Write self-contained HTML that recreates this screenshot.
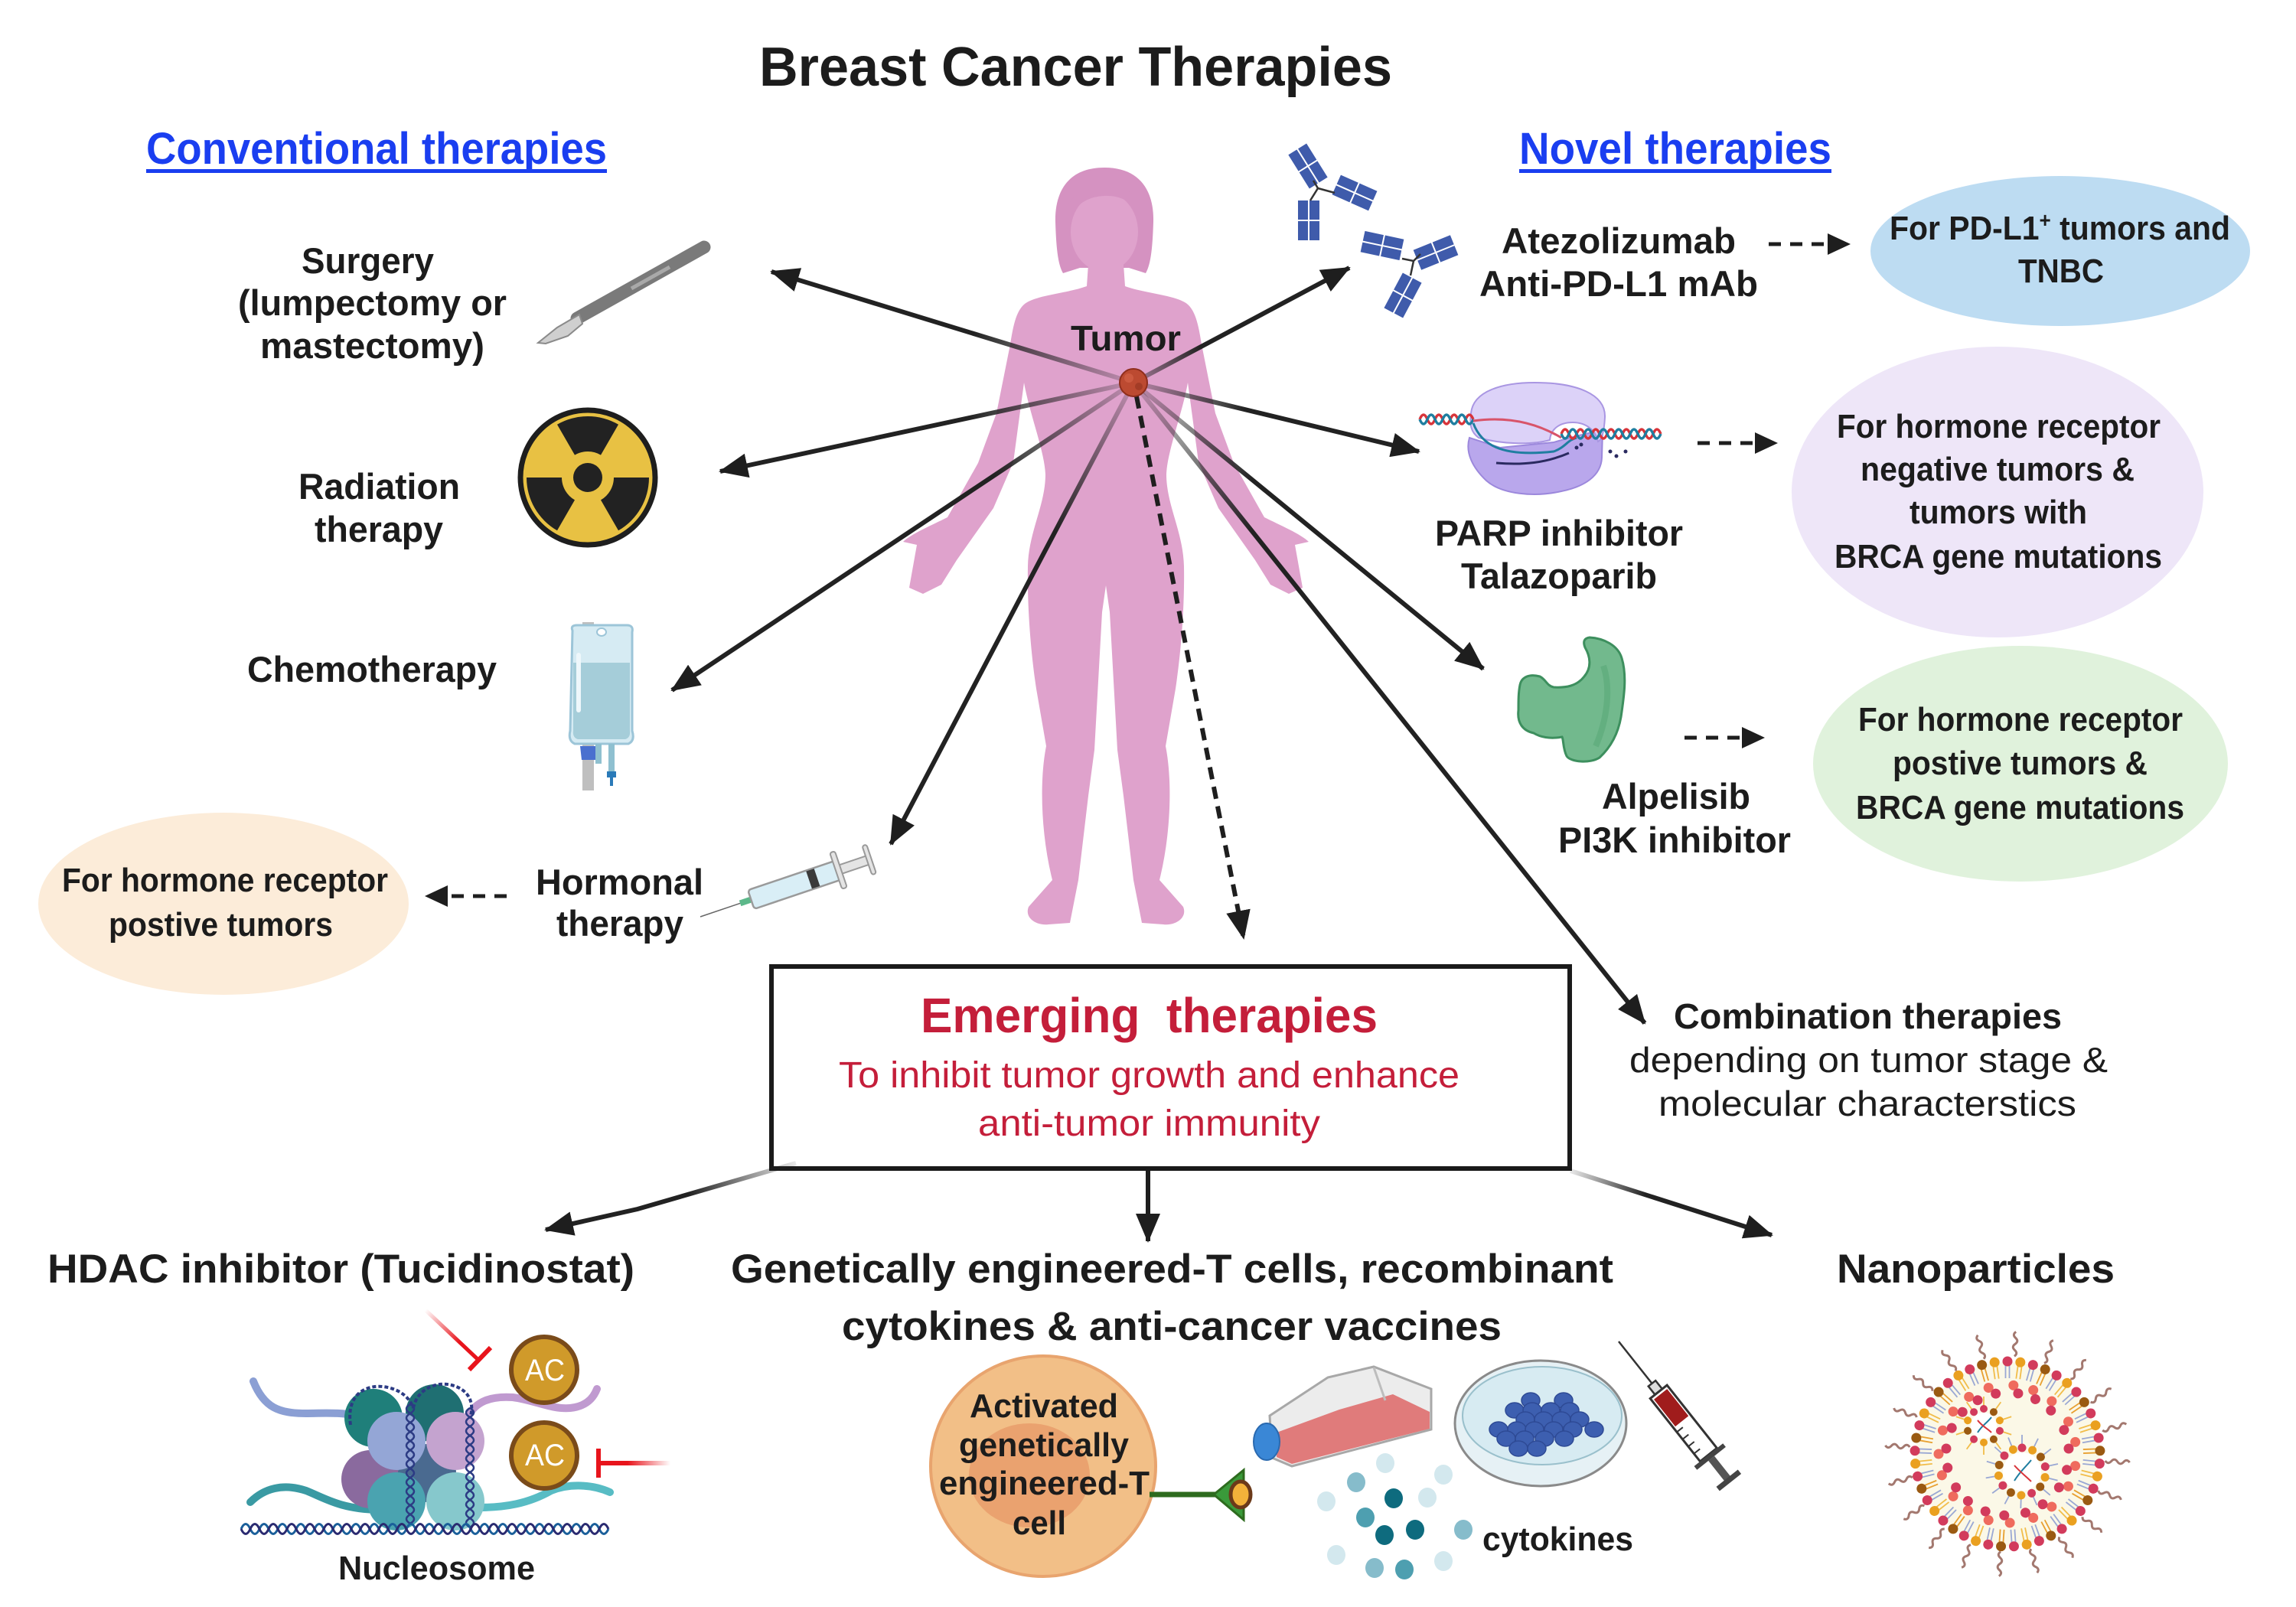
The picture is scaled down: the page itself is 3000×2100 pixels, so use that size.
<!DOCTYPE html>
<html><head><meta charset="utf-8">
<style>
html,body{margin:0;padding:0;background:#fff}
svg{display:block}
text{font-family:"Liberation Sans",Arial,sans-serif}
.b{font-weight:700;fill:#1c1c1c}
.n{font-weight:400;fill:#1c1c1c}
</style></head>
<body>
<svg width="3000" height="2100" viewBox="0 0 3000 2100" xmlns="http://www.w3.org/2000/svg">
<defs>
  <marker id="ah" markerUnits="userSpaceOnUse" markerWidth="38" markerHeight="32" viewBox="0 0 38 32" refX="36" refY="16" orient="auto"><path d="M0,0 L38,16 L0,32 Z" fill="#1e1e1e"/></marker>
  <marker id="ahs" markerUnits="userSpaceOnUse" markerWidth="30" markerHeight="28" viewBox="0 0 30 28" refX="28" refY="14" orient="auto"><path d="M0,0 L30,14 L0,28 Z" fill="#1e1e1e"/></marker>
  <linearGradient id="g1" gradientUnits="userSpaceOnUse" x1="1481" y1="500" x2="1271" y2="436"><stop offset="0" stop-color="#222" stop-opacity="0.15"/><stop offset="1" stop-color="#222"/></linearGradient>
  <linearGradient id="g2" gradientUnits="userSpaceOnUse" x1="1481" y1="500" x2="1266" y2="546"><stop offset="0" stop-color="#222" stop-opacity="0.15"/><stop offset="1" stop-color="#222"/></linearGradient>
  <linearGradient id="g3" gradientUnits="userSpaceOnUse" x1="1481" y1="500" x2="1298" y2="622"><stop offset="0" stop-color="#222" stop-opacity="0.15"/><stop offset="1" stop-color="#222"/></linearGradient>
  <linearGradient id="g4" gradientUnits="userSpaceOnUse" x1="1481" y1="500" x2="1379" y2="695"><stop offset="0" stop-color="#222" stop-opacity="0.15"/><stop offset="1" stop-color="#222"/></linearGradient>
  <linearGradient id="g6" gradientUnits="userSpaceOnUse" x1="1481" y1="500" x2="1569" y2="453"><stop offset="0" stop-color="#222" stop-opacity="0.3"/><stop offset="1" stop-color="#222"/></linearGradient>
  <linearGradient id="g7" gradientUnits="userSpaceOnUse" x1="1481" y1="500" x2="1627" y2="535"><stop offset="0" stop-color="#222" stop-opacity="0.2"/><stop offset="1" stop-color="#222"/></linearGradient>
  <linearGradient id="g8" gradientUnits="userSpaceOnUse" x1="1481" y1="500" x2="1636" y2="627"><stop offset="0" stop-color="#222" stop-opacity="0.15"/><stop offset="1" stop-color="#222"/></linearGradient>
  <linearGradient id="g9" gradientUnits="userSpaceOnUse" x1="1481" y1="500" x2="1637" y2="695"><stop offset="0" stop-color="#222" stop-opacity="0.15"/><stop offset="1" stop-color="#222"/></linearGradient>
  <linearGradient id="gb1" gradientUnits="userSpaceOnUse" x1="1040" y1="1520" x2="900" y2="1562"><stop offset="0" stop-color="#222" stop-opacity="0.1"/><stop offset="1" stop-color="#222"/></linearGradient>
  <linearGradient id="gb3" gradientUnits="userSpaceOnUse" x1="2052" y1="1530" x2="2150" y2="1562"><stop offset="0" stop-color="#222" stop-opacity="0.1"/><stop offset="1" stop-color="#222"/></linearGradient>
  <linearGradient id="gr1" gradientUnits="userSpaceOnUse" x1="556" y1="1712" x2="600" y2="1754"><stop offset="0" stop-color="#e8141c" stop-opacity="0"/><stop offset="1" stop-color="#e8141c"/></linearGradient>
  <linearGradient id="gr2" gradientUnits="userSpaceOnUse" x1="876" y1="1912" x2="820" y2="1912"><stop offset="0" stop-color="#e8141c" stop-opacity="0"/><stop offset="1" stop-color="#e8141c"/></linearGradient>

  <g id="fab" fill="#3f5bab">
    <rect x="-14" y="-26" width="13" height="25"/><rect x="-14" y="1" width="13" height="25"/>
    <rect x="1" y="-26" width="13" height="25"/><rect x="1" y="1" width="13" height="25"/>
  </g>
  <path id="bodyR" d="M1442,345 L1468,345 L1470,374 C1495,383 1530,385 1548,395 C1562,403 1566,425 1570,450 L1588,540 L1612,605 L1652,676 C1672,686 1700,698 1710,708 L1692,712 L1702,768 L1684,776 L1660,764 L1640,732 L1592,664 L1566,604 L1552,500 C1545,540 1525,590 1524,620 C1524,660 1546,695 1547,740 C1548,800 1542,860 1536,900 L1523,975 C1532,1020 1530,1090 1515,1150 L1546,1185 C1552,1200 1535,1210 1520,1208 L1492,1206 L1481,1150 L1468,1040 L1460,980 L1450,800 L1445,765 L1442,765 Z"/>

  <g id="nR"><line x1="-2.5" y1="-116" x2="-2.5" y2="-99" stroke="#9aa8d4" stroke-width="1.8"/><line x1="2.5" y1="-116" x2="2.5" y2="-99" stroke="#9aa8d4" stroke-width="1.8"/><circle cx="0" cy="-121" r="6.5" fill="#d23b5c"/></g>
  <g id="nO"><line x1="-2.5" y1="-116" x2="-2.5" y2="-99" stroke="#f1bd4a" stroke-width="1.8"/><line x1="2.5" y1="-116" x2="2.5" y2="-99" stroke="#f1bd4a" stroke-width="1.8"/><circle cx="0" cy="-121" r="6.5" fill="#eaa020"/></g>
  <g id="nB"><line x1="-2.5" y1="-116" x2="-2.5" y2="-99" stroke="#e8a030" stroke-width="1.8"/><line x1="2.5" y1="-116" x2="2.5" y2="-99" stroke="#e8a030" stroke-width="1.8"/><circle cx="0" cy="-121" r="6.5" fill="#9a5a12"/></g>
  <g id="nI"><circle cx="0" cy="-90" r="6.5" fill="#ef6b5e"/><circle cx="7" cy="-80" r="6.5" fill="#d23b5c"/></g>
  <path id="nP" d="M0,-128 q5,-4 0,-8 t0,-8 t0,-8 t0,-8" fill="none" stroke="#a3786f" stroke-width="3"/>
  <g id="v1"><line x1="0" y1="-26" x2="0" y2="-38" stroke="#f1bd4a" stroke-width="1.8"/><circle cx="0" cy="-22" r="5"/></g>
  <g id="v2"><line x1="0" y1="-35" x2="0" y2="-48" stroke="#9aa8d4" stroke-width="1.8"/><circle cx="0" cy="-31" r="5.5"/></g>
</defs>

<!-- Title -->
<text class="b" x="992" y="112" font-size="72" textLength="827" lengthAdjust="spacingAndGlyphs">Breast Cancer Therapies</text>
<text x="191" y="214" font-size="58" font-weight="700" fill="#1a3ef0" textLength="602" lengthAdjust="spacingAndGlyphs">Conventional therapies</text>
<rect x="191" y="221" width="602" height="5" fill="#1a3ef0"/>
<text x="1985" y="214" font-size="58" font-weight="700" fill="#1a3ef0" textLength="408" lengthAdjust="spacingAndGlyphs">Novel therapies</text>
<rect x="1985" y="221" width="408" height="5" fill="#1a3ef0"/>

<!-- Ellipses -->
<ellipse cx="2692" cy="328" rx="248" ry="98" fill="#bddcf2"/>
<ellipse cx="2610" cy="643" rx="269" ry="190" fill="#eee6f8"/>
<ellipse cx="2640" cy="998" rx="271" ry="154" fill="#e0f2dc"/>
<ellipse cx="292" cy="1181" rx="242" ry="119" fill="#fcecd9"/>

<!-- Woman figure -->
<g fill="#dfa2cc">
  <use href="#bodyR"/>
  <use href="#bodyR" transform="matrix(-1 0 0 1 2890 0)"/>
</g>
<path d="M1443,219 C1490,219 1508,250 1507,290 C1506,322 1504,345 1497,357 L1475,350 L1411,350 L1389,357 C1382,345 1380,322 1379,290 C1378,250 1396,219 1443,219 Z" fill="#d592c1"/>
<ellipse cx="1443" cy="303" rx="44" ry="52" fill="#dfa2cc"/>
<path d="M1400,272 C1412,246 1470,240 1488,270" fill="none" stroke="#d592c1" stroke-width="12"/>
<rect x="1422" y="345" width="46" height="36" fill="#dfa2cc"/>

<!-- Arrows from tumor -->
<g fill="none" stroke-width="6" marker-end="url(#ah)">
  <line x1="1481" y1="500" x2="1008" y2="355" stroke="url(#g1)"/>
  <line x1="1481" y1="500" x2="941" y2="616" stroke="url(#g2)"/>
  <line x1="1481" y1="500" x2="878" y2="902" stroke="url(#g3)"/>
  <line x1="1481" y1="500" x2="1164" y2="1103" stroke="url(#g4)"/>
  <line x1="1481" y1="500" x2="1763" y2="350" stroke="url(#g6)"/>
  <line x1="1481" y1="500" x2="1854" y2="590" stroke="url(#g7)"/>
  <line x1="1481" y1="500" x2="1938" y2="874" stroke="url(#g8)"/>
  <line x1="1481" y1="500" x2="2149" y2="1337" stroke="url(#g9)"/>
  <line x1="1485" y1="518" x2="1625" y2="1226" stroke="#1e1e1e" stroke-dasharray="16 10"/>
</g>

<!-- Tumor -->
<circle cx="1481" cy="500" r="18" fill="#bc4a31" stroke="#8f2e1c" stroke-width="2"/>
<circle cx="1475" cy="494" r="6" fill="#cc5a40"/>
<circle cx="1488" cy="505" r="5" fill="#a33c26"/>
<text class="b" x="1399" y="458" font-size="46" textLength="144" lengthAdjust="spacingAndGlyphs">Tumor</text>

<!-- Left labels -->
<text class="b" x="394" y="357" font-size="47" textLength="173" lengthAdjust="spacingAndGlyphs">Surgery</text>
<text class="b" x="311" y="412" font-size="47" textLength="351" lengthAdjust="spacingAndGlyphs">(lumpectomy or</text>
<text class="b" x="340" y="468" font-size="47" textLength="293" lengthAdjust="spacingAndGlyphs">mastectomy)</text>
<text class="b" x="390" y="652" font-size="47" textLength="211" lengthAdjust="spacingAndGlyphs">Radiation</text>
<text class="b" x="411" y="708" font-size="47" textLength="168" lengthAdjust="spacingAndGlyphs">therapy</text>
<text class="b" x="323" y="891" font-size="47" textLength="326" lengthAdjust="spacingAndGlyphs">Chemotherapy</text>
<text class="b" x="700" y="1169" font-size="47" textLength="219" lengthAdjust="spacingAndGlyphs">Hormonal</text>
<text class="b" x="727" y="1223" font-size="47" textLength="166" lengthAdjust="spacingAndGlyphs">therapy</text>
<text class="b" x="81" y="1165" font-size="44" textLength="426" lengthAdjust="spacingAndGlyphs">For hormone receptor</text>
<text class="b" x="142" y="1223" font-size="44" textLength="293" lengthAdjust="spacingAndGlyphs">postive tumors</text>

<!-- Scalpel -->
<line x1="754" y1="416" x2="920" y2="323" stroke="#7a7a7a" stroke-width="17" stroke-linecap="round"/>
<line x1="825" y1="377" x2="875" y2="349" stroke="#a9a9a9" stroke-width="5"/>
<polygon points="757,411 728,428 703,448 713,449 742,439 761,423" fill="#cfcfcf" stroke="#8a8a8a" stroke-width="2"/>

<!-- Radiation -->
<circle cx="768" cy="624" r="88" fill="#e8c143" stroke="#1e1e1e" stroke-width="7"/>
<g fill="#222">
  <path d="M751,594.6 L728,554.7 A80,80 0 0 1 808,554.7 L785,594.6 A34,34 0 0 0 751,594.6 Z"/>
  <path d="M802,624 L848,624 A80,80 0 0 1 808,693.3 L785,653.4 A34,34 0 0 0 802,624 Z"/>
  <path d="M751,653.4 L728,693.3 A80,80 0 0 1 688,624 L734,624 A34,34 0 0 0 751,653.4 Z"/>
  <circle cx="768" cy="624" r="19"/>
</g>

<!-- IV bag -->
<rect x="761" y="813" width="15" height="220" fill="#bfbfbf"/>
<path d="M748,824 Q745,817 754,817 L819,817 Q828,817 826,826 L826,955 Q830,968 821,972 L751,972 Q742,968 745,955 Z" fill="#d6ebf3" stroke="#9cc5d8" stroke-width="3"/>
<path d="M749,866 L823,866 L823,955 Q824,964 817,966 L755,966 Q748,964 749,955 Z" fill="#a5cdd9"/>
<rect x="753" y="853" width="6" height="78" rx="3" fill="#eef7fb"/>
<ellipse cx="786" cy="826" rx="6" ry="5" fill="#fff" stroke="#9cc5d8" stroke-width="2"/>
<path d="M758,975 L778,975 L778,993 L760,993 Z" fill="#4a70cf"/>
<rect x="778" y="972" width="8" height="26" fill="#8fc0d0"/>
<rect x="795" y="972" width="8" height="40" fill="#8fc0d0"/>
<rect x="793" y="1008" width="12" height="8" fill="#2a7ab8"/>
<rect x="797" y="1015" width="4" height="12" fill="#2a7ab8"/>

<!-- Hormonal syringe -->
<g transform="translate(915,1198) rotate(-18.67)">
  <line x1="0" y1="0" x2="58" y2="0" stroke="#666" stroke-width="1.5"/>
  <rect x="55" y="-4" width="16" height="8" fill="#5cb88a"/>
  <rect x="160" y="-6" width="74" height="12" fill="#e4e4e4" stroke="#9a9a9a" stroke-width="2"/>
  <rect x="70" y="-13" width="120" height="26" rx="4" fill="#d9eef6" stroke="#9a9a9a" stroke-width="2.5"/>
  <rect x="150" y="-12" width="11" height="24" fill="#3a3a3a"/>
  <rect x="187" y="-25" width="7" height="50" rx="3" fill="#e4e4e4" stroke="#999" stroke-width="2"/>
  <rect x="230" y="-20" width="6" height="40" rx="3" fill="#e4e4e4" stroke="#999" stroke-width="2"/>
</g>

<!-- Small dashed arrows -->
<g stroke="#1e1e1e" stroke-width="5" stroke-dasharray="16 12" fill="none" marker-end="url(#ahs)">
  <line x1="2311" y1="319" x2="2416" y2="319"/>
  <line x1="2218" y1="579" x2="2321" y2="579"/>
  <line x1="2201" y1="964" x2="2304" y2="964"/>
  <line x1="662" y1="1171" x2="557" y2="1171"/>
</g>

<!-- Antibodies -->
<use href="#fab" transform="translate(1710,288)"/>
<use href="#fab" transform="translate(1709,217) rotate(-32)"/>
<use href="#fab" transform="translate(1770,252) rotate(-66)"/>
<path d="M1712,262 L1722,246 L1716,236 M1722,246 L1744,252" fill="none" stroke="#333" stroke-width="2.5"/>
<use href="#fab" transform="translate(1806,321) rotate(-78)"/>
<use href="#fab" transform="translate(1876,330) rotate(68)"/>
<use href="#fab" transform="translate(1833,386) rotate(28)"/>
<path d="M1832,338 L1847,341 L1856,332 M1847,341 L1843,360" fill="none" stroke="#333" stroke-width="2.5"/>

<!-- Novel labels -->
<text class="b" x="1962" y="331" font-size="47" textLength="306" lengthAdjust="spacingAndGlyphs">Atezolizumab</text>
<text class="b" x="1933" y="387" font-size="47" textLength="364" lengthAdjust="spacingAndGlyphs">Anti-PD-L1 mAb</text>
<text class="b" x="2469" y="313" font-size="44" textLength="445" lengthAdjust="spacingAndGlyphs">For PD-L1<tspan font-size="28" dy="-16">+</tspan><tspan dy="16"> tumors and</tspan></text>
<text class="b" x="2637" y="369" font-size="44" textLength="112" lengthAdjust="spacingAndGlyphs">TNBC</text>

<!-- PARP -->
<path d="M1920,572 C1914,592 1925,612 1942,628 C1962,646 2005,650 2040,642 C2070,636 2092,622 2093,598 L2094,562 C2075,566 2050,572 2030,578 L1960,585 Z" fill="#b9a7ec" stroke="#9c88dc" stroke-width="2"/>
<path fill-rule="evenodd" d="M1922,540 C1925,510 1965,500 2005,500 C2060,500 2098,515 2097,545 C2096,565 2093,575 2088,577 C2085,562 2072,552 2055,552 C2036,552 2026,562 2025,575 C2000,582 1960,580 1932,572 C1922,565 1920,555 1922,540 Z" fill="#dcd2f8" stroke="#a996e2" stroke-width="2"/>
<path d="M1855,548 q5,-12 10,0 t10,0 t10,0 t10,0 t10,0 t10,0 t10,0" fill="none" stroke="#d8343a" stroke-width="3.5"/>
<path d="M1855,548 q5,12 10,0 t10,0 t10,0 t10,0 t10,0 t10,0 t10,0" fill="none" stroke="#1f7ea0" stroke-width="3.5"/>
<path d="M1925,550 C1960,545 2000,548 2040,572" fill="none" stroke="#d8546a" stroke-width="3"/>
<path d="M1925,553 C1935,580 1960,598 2030,590 C2045,585 2048,575 2060,572" fill="none" stroke="#1f7ea0" stroke-width="3"/>
<path d="M1955,605 C1990,608 2020,605 2050,592" fill="none" stroke="#2a2a60" stroke-width="3"/>
<path d="M2040,567 q5,-12 10,0 t10,0 t10,0 t10,0 t10,0 t10,0 t10,0 t10,0 t10,0 t10,0 t10,0 t10,0 t10,0" fill="none" stroke="#d8343a" stroke-width="3.5"/>
<path d="M2040,567 q5,12 10,0 t10,0 t10,0 t10,0 t10,0 t10,0 t10,0 t10,0 t10,0 t10,0 t10,0 t10,0 t10,0" fill="none" stroke="#1f7ea0" stroke-width="3.5"/>
<g fill="#2a2a60"><circle cx="2060" cy="585" r="2.5"/><circle cx="2066" cy="581" r="2.5"/><circle cx="2104" cy="590" r="2.5"/><circle cx="2112" cy="596" r="2.5"/><circle cx="2124" cy="590" r="2.5"/></g>

<text class="b" x="1875" y="713" font-size="47" textLength="324" lengthAdjust="spacingAndGlyphs">PARP inhibitor</text>
<text class="b" x="1909" y="769" font-size="47" textLength="256" lengthAdjust="spacingAndGlyphs">Talazoparib</text>
<text class="b" x="2400" y="572" font-size="44" textLength="423" lengthAdjust="spacingAndGlyphs">For hormone receptor</text>
<text class="b" x="2431" y="628" font-size="44" textLength="358" lengthAdjust="spacingAndGlyphs">negative tumors &amp;</text>
<text class="b" x="2495" y="684" font-size="44" textLength="232" lengthAdjust="spacingAndGlyphs">tumors with</text>
<text class="b" x="2397" y="742" font-size="44" textLength="428" lengthAdjust="spacingAndGlyphs">BRCA gene mutations</text>

<!-- Alpelisib protein -->
<path d="M2077,833 C2095,834 2114,843 2119,860 C2126,883 2122,910 2118,937 C2114,960 2104,977 2090,990 C2078,998 2052,996 2047,988 C2042,978 2043,966 2041,963 C2025,966 2012,963 2004,958 C1990,955 1982,945 1984,928 C1984,915 1984,905 1986,895 C1988,885 1998,880 2012,884 C2020,888 2021,896 2030,898 C2045,899 2060,897 2070,884 C2080,872 2078,858 2071,846 C2068,838 2070,834 2077,833 Z" fill="#72b98d" stroke="#3d8f5e" stroke-width="3"/>
<path d="M2095,870 C2105,900 2100,940 2085,975" fill="none" stroke="#5aa878" stroke-width="8" opacity="0.6"/>

<text class="b" x="2093" y="1057" font-size="47" textLength="194" lengthAdjust="spacingAndGlyphs">Alpelisib</text>
<text class="b" x="2036" y="1114" font-size="47" textLength="304" lengthAdjust="spacingAndGlyphs">PI3K inhibitor</text>
<text class="b" x="2428" y="955" font-size="44" textLength="424" lengthAdjust="spacingAndGlyphs">For hormone receptor</text>
<text class="b" x="2473" y="1012" font-size="44" textLength="333" lengthAdjust="spacingAndGlyphs">postive tumors &amp;</text>
<text class="b" x="2425" y="1070" font-size="44" textLength="429" lengthAdjust="spacingAndGlyphs">BRCA gene mutations</text>

<!-- Combination -->
<text class="b" x="2187" y="1344" font-size="46" textLength="507" lengthAdjust="spacingAndGlyphs">Combination therapies</text>
<text class="n" x="2129" y="1401" font-size="46" textLength="625" lengthAdjust="spacingAndGlyphs">depending on tumor stage &amp;</text>
<text class="n" x="2167" y="1458" font-size="46" textLength="546" lengthAdjust="spacingAndGlyphs">molecular characterstics</text>

<!-- Emerging box -->
<rect x="1008" y="1263" width="1043" height="264" fill="#fff" stroke="#1a1a1a" stroke-width="6"/>
<text x="1203" y="1349" font-size="64" font-weight="700" fill="#c41e3a" textLength="597" lengthAdjust="spacingAndGlyphs">Emerging&#160; therapies</text>
<text x="1096" y="1421" font-size="48" font-weight="400" fill="#c41e3a" textLength="811" lengthAdjust="spacingAndGlyphs">To inhibit tumor growth and enhance</text>
<text x="1278" y="1484" font-size="48" font-weight="400" fill="#c41e3a" textLength="447" lengthAdjust="spacingAndGlyphs">anti-tumor immunity</text>

<!-- Bottom arrows -->
<g fill="none" stroke-width="6" marker-end="url(#ah)">
  <path d="M1040,1520 L833,1580 L713,1607" stroke="url(#gb1)"/>
  <line x1="1500" y1="1530" x2="1500" y2="1622" stroke="#1e1e1e"/>
  <line x1="2052" y1="1530" x2="2315" y2="1614" stroke="url(#gb3)"/>
</g>

<!-- Bottom headings -->
<text class="b" x="62" y="1676" font-size="53" textLength="767" lengthAdjust="spacingAndGlyphs">HDAC inhibitor (Tucidinostat)</text>
<text class="b" x="955" y="1676" font-size="53" textLength="1153" lengthAdjust="spacingAndGlyphs">Genetically engineered-T cells, recombinant</text>
<text class="b" x="1100" y="1751" font-size="53" textLength="862" lengthAdjust="spacingAndGlyphs">cytokines &amp; anti-cancer vaccines</text>
<text class="b" x="2400" y="1676" font-size="53" textLength="363" lengthAdjust="spacingAndGlyphs">Nanoparticles</text>

<!-- Nucleosome -->
<g fill="none" stroke-linecap="round" stroke-width="10">
  <path d="M331,1805 C345,1840 365,1847 400,1847 C430,1847 460,1843 492,1860" stroke="#8b9fd4"/>
  <path d="M612,1850 C622,1832 640,1824 670,1826 C700,1830 720,1842 745,1840 C765,1838 775,1828 780,1815" stroke="#c09ad0"/>
  <path d="M327,1963 C345,1945 370,1938 400,1948 C425,1958 445,1972 495,1973" stroke="#3a9aa3"/>
  <path d="M625,1970 C660,1970 690,1965 720,1948 C745,1938 775,1940 797,1950" stroke="#58bcc4"/>
</g>
<circle cx="488" cy="1853" r="38" fill="#1f7f7a"/>
<circle cx="568" cy="1847" r="38" fill="#1f6f72"/>
<circle cx="484" cy="1933" r="38" fill="#8a6a9e"/>
<circle cx="558" cy="1925" r="38" fill="#4a6a90"/>
<circle cx="518" cy="1883" r="38" fill="#94a6d6"/>
<circle cx="595" cy="1883" r="38" fill="#c4a3cf"/>
<circle cx="518" cy="1962" r="38" fill="#4aa3b0"/>
<circle cx="595" cy="1962" r="38" fill="#86c8cc"/>
<g fill="none" stroke="#2c3b84" stroke-width="2.5">
  <path d="M458,1862 C452,1820 480,1810 500,1812 C520,1814 535,1825 540,1840" stroke-dasharray="5 3" stroke-width="4"/>
  <path d="M540,1840 C545,1815 570,1805 590,1810 C610,1815 620,1830 615,1850" stroke-dasharray="5 3" stroke-width="4"/>
  <path d="M536,1835 q-10,6 0,12 t0,12 t0,12 t0,12 t0,12 t0,12 t0,12 t0,12 t0,12 t0,12 t0,12 t0,12 t0,12"/>
  <path d="M536,1835 q10,6 0,12 t0,12 t0,12 t0,12 t0,12 t0,12 t0,12 t0,12 t0,12 t0,12 t0,12 t0,12 t0,12"/>
  <path d="M614,1840 q-10,6 0,12 t0,12 t0,12 t0,12 t0,12 t0,12 t0,12 t0,12 t0,12 t0,12 t0,12 t0,12 t0,12"/>
  <path d="M614,1840 q10,6 0,12 t0,12 t0,12 t0,12 t0,12 t0,12 t0,12 t0,12 t0,12 t0,12 t0,12 t0,12 t0,12"/>
</g>
<g fill="none" stroke-width="3">
  <path stroke="#1a5f9a" d="M315,1998 q6,-13 12,0 t12,0 t12,0 t12,0 t12,0 t12,0 t12,0 t12,0 t12,0 t12,0 t12,0 t12,0 t12,0 t12,0 t12,0 t12,0 t12,0 t12,0 t12,0 t12,0 t12,0 t12,0 t12,0 t12,0 t12,0 t12,0 t12,0 t12,0 t12,0 t12,0 t12,0 t12,0 t12,0 t12,0 t12,0 t12,0 t12,0 t12,0 t12,0 t12,0"/>
  <path stroke="#2a2a70" d="M315,1998 q6,13 12,0 t12,0 t12,0 t12,0 t12,0 t12,0 t12,0 t12,0 t12,0 t12,0 t12,0 t12,0 t12,0 t12,0 t12,0 t12,0 t12,0 t12,0 t12,0 t12,0 t12,0 t12,0 t12,0 t12,0 t12,0 t12,0 t12,0 t12,0 t12,0 t12,0 t12,0 t12,0 t12,0 t12,0 t12,0 t12,0 t12,0 t12,0 t12,0 t12,0"/>
</g>
<circle cx="711" cy="1790" r="43" fill="#d09a2a" stroke="#7a4b1a" stroke-width="6"/>
<circle cx="711" cy="1902" r="43" fill="#d09a2a" stroke="#7a4b1a" stroke-width="6"/>
<text x="686" y="1804" font-size="40" fill="#fff" textLength="52" lengthAdjust="spacingAndGlyphs">AC</text>
<text x="686" y="1915" font-size="40" fill="#fff" textLength="52" lengthAdjust="spacingAndGlyphs">AC</text>
<line x1="556" y1="1712" x2="626" y2="1778" stroke="url(#gr1)" stroke-width="5"/>
<line x1="613" y1="1790" x2="641" y2="1761" stroke="#e8141c" stroke-width="6"/>
<line x1="876" y1="1912" x2="783" y2="1912" stroke="url(#gr2)" stroke-width="6"/>
<line x1="782" y1="1893" x2="782" y2="1931" stroke="#e8141c" stroke-width="6"/>
<text class="b" x="442" y="2064" font-size="44" textLength="257" lengthAdjust="spacingAndGlyphs">Nucleosome</text>

<!-- T cell -->
<ellipse cx="1363" cy="1916" rx="147" ry="144" fill="#f2bf87" stroke="#e8a46e" stroke-width="4"/>
<ellipse cx="1345" cy="1928" rx="79" ry="68" fill="#eaa26f"/>
<text class="b" x="1267" y="1852" font-size="44" textLength="194" lengthAdjust="spacingAndGlyphs">Activated</text>
<text class="b" x="1253" y="1903" font-size="44" textLength="222" lengthAdjust="spacingAndGlyphs">genetically</text>
<text class="b" x="1227" y="1953" font-size="44" textLength="275" lengthAdjust="spacingAndGlyphs">engineered-T</text>
<text class="b" x="1323" y="2005" font-size="44" textLength="70" lengthAdjust="spacingAndGlyphs">cell</text>
<line x1="1502" y1="1953" x2="1592" y2="1953" stroke="#2d6b1e" stroke-width="7"/>
<polygon points="1586,1953 1625,1921 1625,1986" fill="#3a9a3a" stroke="#2d6b1e" stroke-width="3"/>
<ellipse cx="1621" cy="1953" rx="13" ry="17" fill="#f3b23a" stroke="#6b3a1a" stroke-width="5"/>

<!-- Flask -->
<polygon points="1659,1850 1735,1800 1795,1786 1870,1815 1870,1868 1688,1916 1662,1905" fill="#ececec" stroke="#a8a8a8" stroke-width="3"/>
<polygon points="1668,1872 1750,1842 1820,1822 1868,1845 1868,1867 1688,1913 1668,1904" fill="#e07b7b"/>
<line x1="1795" y1="1787" x2="1810" y2="1830" stroke="#bdbdbd" stroke-width="3"/>
<ellipse cx="1655" cy="1884" rx="17" ry="24" fill="#3a87d6" stroke="#2a6ab0" stroke-width="2"/>

<!-- Petri dish -->
<ellipse cx="2013" cy="1860" rx="112" ry="82" fill="#e6f1f5" stroke="#8a8a8a" stroke-width="3"/>
<ellipse cx="2015" cy="1850" rx="104" ry="64" fill="#d7ebf2" stroke="#9ac0cc" stroke-width="2"/>
<g fill="#3d5fb0" stroke="#2e4a95" stroke-width="1.5">
  <ellipse cx="2000" cy="1830" rx="12" ry="10"/><ellipse cx="2043" cy="1830" rx="12" ry="10"/>
  <ellipse cx="1979" cy="1843" rx="12" ry="10"/><ellipse cx="2002" cy="1843" rx="12" ry="10"/><ellipse cx="2026" cy="1843" rx="12" ry="10"/><ellipse cx="2051" cy="1843" rx="12" ry="10"/>
  <ellipse cx="1993" cy="1855" rx="12" ry="10"/><ellipse cx="2017" cy="1855" rx="12" ry="10"/><ellipse cx="2040" cy="1855" rx="12" ry="10"/><ellipse cx="2064" cy="1855" rx="12" ry="10"/>
  <ellipse cx="1958" cy="1868" rx="12" ry="10"/><ellipse cx="1982" cy="1868" rx="12" ry="10"/><ellipse cx="2005" cy="1868" rx="12" ry="10"/><ellipse cx="2030" cy="1868" rx="12" ry="10"/><ellipse cx="2055" cy="1868" rx="12" ry="10"/><ellipse cx="2083" cy="1868" rx="12" ry="10"/>
  <ellipse cx="1968" cy="1880" rx="12" ry="10"/><ellipse cx="1992" cy="1880" rx="12" ry="10"/><ellipse cx="2018" cy="1880" rx="12" ry="10"/><ellipse cx="2044" cy="1880" rx="12" ry="10"/>
  <ellipse cx="1984" cy="1893" rx="12" ry="10"/><ellipse cx="2008" cy="1893" rx="12" ry="10"/>
</g>

<!-- Syringe 2 -->
<g transform="translate(2115,1753) rotate(51.6)">
  <line x1="0" y1="0" x2="75" y2="0" stroke="#333" stroke-width="2.5"/>
  <rect x="70" y="-6" width="14" height="12" fill="#ddd" stroke="#333" stroke-width="2.5"/>
  <rect x="195" y="-5" width="35" height="10" fill="#555"/>
  <rect x="84" y="-14" width="105" height="28" fill="#fff" stroke="#333" stroke-width="3"/>
  <rect x="88" y="-11" width="45" height="22" fill="#a01c1c"/>
  <g stroke="#333" stroke-width="2"><line x1="140" y1="4" x2="140" y2="14"/><line x1="152" y1="4" x2="152" y2="14"/><line x1="164" y1="4" x2="164" y2="14"/><line x1="176" y1="4" x2="176" y2="14"/></g>
  <rect x="189" y="-24" width="6" height="48" fill="#444"/>
  <rect x="228" y="-18" width="7" height="36" fill="#444"/>
</g>

<!-- Cytokines -->
<g>
  <ellipse cx="1810" cy="1912" rx="12" ry="13" fill="#d3e8ee"/>
  <ellipse cx="1886" cy="1927" rx="12" ry="13" fill="#d3e8ee"/>
  <ellipse cx="1772" cy="1937" rx="12" ry="13" fill="#86bccb"/>
  <ellipse cx="1733" cy="1962" rx="12" ry="13" fill="#d3e8ee"/>
  <ellipse cx="1865" cy="1957" rx="12" ry="13" fill="#d3e8ee"/>
  <ellipse cx="1821" cy="1958" rx="12" ry="13" fill="#0e6b7e"/>
  <ellipse cx="1784" cy="1983" rx="12" ry="13" fill="#4e9fb0"/>
  <ellipse cx="1849" cy="1999" rx="12" ry="13" fill="#0e6b7e"/>
  <ellipse cx="1809" cy="2006" rx="12" ry="13" fill="#0e6b7e"/>
  <ellipse cx="1912" cy="1999" rx="12" ry="13" fill="#86bccb"/>
  <ellipse cx="1746" cy="2032" rx="12" ry="13" fill="#d3e8ee"/>
  <ellipse cx="1886" cy="2040" rx="12" ry="13" fill="#d3e8ee"/>
  <ellipse cx="1796" cy="2049" rx="12" ry="13" fill="#86bccb"/>
  <ellipse cx="1835" cy="2051" rx="12" ry="13" fill="#4e9fb0"/>
</g>
<text class="b" x="1937" y="2026" font-size="44" textLength="197" lengthAdjust="spacingAndGlyphs">cytokines</text>

<!-- Nanoparticle -->
<circle cx="2623" cy="1900" r="120" fill="#fbf8e7"/>
<g transform="translate(2623,1900)">
  <use href="#nP" transform="rotate(4)"/><use href="#nP" transform="rotate(22)"/><use href="#nP" transform="rotate(40)"/><use href="#nP" transform="rotate(58)"/><use href="#nP" transform="rotate(76)"/>
  <use href="#nP" transform="rotate(94)"/><use href="#nP" transform="rotate(112)"/><use href="#nP" transform="rotate(130)"/><use href="#nP" transform="rotate(148)"/><use href="#nP" transform="rotate(166)"/>
  <use href="#nP" transform="rotate(184)"/><use href="#nP" transform="rotate(202)"/><use href="#nP" transform="rotate(220)"/><use href="#nP" transform="rotate(238)"/><use href="#nP" transform="rotate(256)"/>
  <use href="#nP" transform="rotate(274)"/><use href="#nP" transform="rotate(292)"/><use href="#nP" transform="rotate(310)"/><use href="#nP" transform="rotate(328)"/><use href="#nP" transform="rotate(346)"/>

  <use href="#nR" transform="rotate(0)"/><use href="#nO" transform="rotate(8)"/><use href="#nR" transform="rotate(16)"/><use href="#nB" transform="rotate(24)"/>
  <use href="#nR" transform="rotate(32)"/><use href="#nO" transform="rotate(40)"/><use href="#nR" transform="rotate(48)"/><use href="#nB" transform="rotate(56)"/>
  <use href="#nR" transform="rotate(64)"/><use href="#nO" transform="rotate(72)"/><use href="#nR" transform="rotate(80)"/><use href="#nB" transform="rotate(88)"/>
  <use href="#nR" transform="rotate(96)"/><use href="#nO" transform="rotate(104)"/><use href="#nR" transform="rotate(112)"/><use href="#nB" transform="rotate(120)"/>
  <use href="#nR" transform="rotate(128)"/><use href="#nO" transform="rotate(136)"/><use href="#nR" transform="rotate(144)"/><use href="#nB" transform="rotate(152)"/>
  <use href="#nR" transform="rotate(160)"/><use href="#nO" transform="rotate(168)"/><use href="#nR" transform="rotate(176)"/><use href="#nB" transform="rotate(184)"/>
  <use href="#nR" transform="rotate(192)"/><use href="#nO" transform="rotate(200)"/><use href="#nR" transform="rotate(208)"/><use href="#nB" transform="rotate(216)"/>
  <use href="#nR" transform="rotate(224)"/><use href="#nO" transform="rotate(232)"/><use href="#nR" transform="rotate(240)"/><use href="#nB" transform="rotate(248)"/>
  <use href="#nR" transform="rotate(256)"/><use href="#nO" transform="rotate(264)"/><use href="#nR" transform="rotate(272)"/><use href="#nB" transform="rotate(280)"/>
  <use href="#nR" transform="rotate(288)"/><use href="#nO" transform="rotate(296)"/><use href="#nR" transform="rotate(304)"/><use href="#nB" transform="rotate(312)"/>
  <use href="#nR" transform="rotate(320)"/><use href="#nO" transform="rotate(328)"/><use href="#nR" transform="rotate(336)"/><use href="#nB" transform="rotate(344)"/>
  <use href="#nO" transform="rotate(352)"/>

  <use href="#nI" transform="rotate(5)"/><use href="#nI" transform="rotate(22)"/><use href="#nI" transform="rotate(40)"/><use href="#nI" transform="rotate(62)"/>
  <use href="#nI" transform="rotate(80)"/><use href="#nI" transform="rotate(100)"/><use href="#nI" transform="rotate(118)"/><use href="#nI" transform="rotate(140)"/>
  <use href="#nI" transform="rotate(158)"/><use href="#nI" transform="rotate(178)"/><use href="#nI" transform="rotate(196)"/><use href="#nI" transform="rotate(215)"/>
  <use href="#nI" transform="rotate(232)"/><use href="#nI" transform="rotate(252)"/><use href="#nI" transform="rotate(270)"/><use href="#nI" transform="rotate(290)"/>
  <use href="#nI" transform="rotate(308)"/><use href="#nI" transform="rotate(326)"/><use href="#nI" transform="rotate(344)"/>
</g>
<circle cx="2592" cy="1863" r="17" fill="#fff"/>
<circle cx="2642" cy="1923" r="25" fill="#fff"/>
<g transform="translate(2592,1863)">
  <use href="#v1" fill="#d23b5c" transform="rotate(0)"/><use href="#v1" fill="#9a5a12" transform="rotate(36)"/><use href="#v1" fill="#eaa020" transform="rotate(72)"/><use href="#v1" fill="#d23b5c" transform="rotate(108)"/><use href="#v1" fill="#9a5a12" transform="rotate(144)"/>
  <use href="#v1" fill="#eaa020" transform="rotate(180)"/><use href="#v1" fill="#d23b5c" transform="rotate(216)"/><use href="#v1" fill="#9a5a12" transform="rotate(252)"/><use href="#v1" fill="#eaa020" transform="rotate(288)"/><use href="#v1" fill="#d23b5c" transform="rotate(324)"/>
</g>
<g transform="translate(2642,1923)">
  <use href="#v2" fill="#d23b5c" transform="rotate(0)"/><use href="#v2" fill="#eaa020" transform="rotate(26)"/><use href="#v2" fill="#9a5a12" transform="rotate(52)"/><use href="#v2" fill="#d23b5c" transform="rotate(78)"/>
  <use href="#v2" fill="#eaa020" transform="rotate(104)"/><use href="#v2" fill="#9a5a12" transform="rotate(130)"/><use href="#v2" fill="#d23b5c" transform="rotate(156)"/><use href="#v2" fill="#eaa020" transform="rotate(182)"/>
  <use href="#v2" fill="#9a5a12" transform="rotate(208)"/><use href="#v2" fill="#d23b5c" transform="rotate(234)"/><use href="#v2" fill="#eaa020" transform="rotate(260)"/><use href="#v2" fill="#9a5a12" transform="rotate(286)"/>
  <use href="#v2" fill="#d23b5c" transform="rotate(312)"/><use href="#v2" fill="#eaa020" transform="rotate(338)"/>
</g>
<path d="M2584,1872 C2590,1862 2596,1860 2602,1852" fill="none" stroke="#1f7ea0" stroke-width="2"/>
<path d="M2584,1856 C2590,1864 2596,1866 2602,1872" fill="none" stroke="#d8343a" stroke-width="2"/>
<path d="M2632,1935 C2640,1922 2646,1918 2654,1908" fill="none" stroke="#1f7ea0" stroke-width="2"/>
<path d="M2632,1915 C2640,1924 2646,1928 2654,1936" fill="none" stroke="#d8343a" stroke-width="2"/>

</svg>
</body></html>
